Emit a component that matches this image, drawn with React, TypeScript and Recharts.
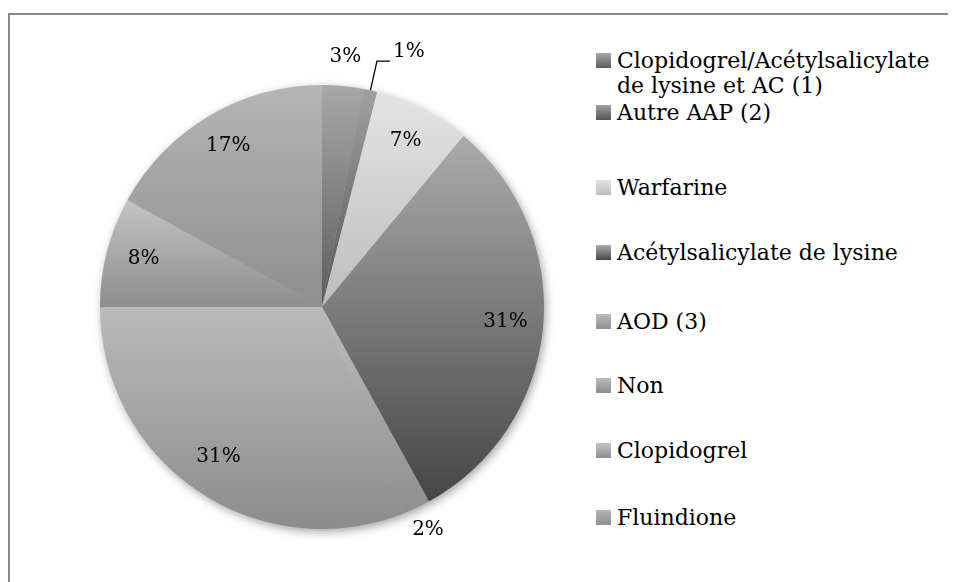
import React from 'react';
import { PieChart, Pie, Cell, Legend } from 'recharts';

const categories = [
  'Clopidogrel/Acétylsalicylate de lysine et AC (1)',
  'Autre AAP (2)',
  'Warfarine',
  'Acétylsalicylate de lysine',
  'AOD (3)',
  'Non',
  'Clopidogrel',
  'Fluindione',
];
const values = [3, 1, 7, 31, 2, 31, 8, 17];

const data = categories.map((name, i) => ({ name, value: values[i] }));

const gradTop = ['#a8a8a8', '#a0a0a0', '#e4e4e4', '#ababab', '#bdbdbd', '#bababa', '#c4c4c4', '#b5b5b5'];
const gradBottom = ['#5c5c5c', '#555555', '#bdbdbd', '#464646', '#8e8e8e', '#8c8c8c', '#8d8d8d', '#8e8e8e'];

const FONT = '"DejaVu Serif", serif';
const RAD = Math.PI / 180;

const renderLabel = (props: any) => {
  const { cx, cy, midAngle, outerRadius, percent } = props;
  const text = `${Math.round(percent * 100)}%`;
  const cos = Math.cos(-midAngle * RAD);
  const sin = Math.sin(-midAngle * RAD);
  if (percent < 0.015) {
    const sx = cx + outerRadius * cos;
    const sy = cy + outerRadius * sin;
    const ex = cx + (outerRadius + 30) * cos;
    const ey = cy + (outerRadius + 30) * sin;
    return (
      <g>
        <polyline points={`${sx},${sy} ${ex},${ey} ${ex + 13},${ey}`} stroke="#000" strokeWidth={1.3} fill="none" />
        <text x={ex + 16} y={ey - 11} textAnchor="start" dominantBaseline="central" fill="#000" fontFamily={FONT} fontSize={20}>
          {text}
        </text>
      </g>
    );
  }
  const r = percent < 0.04 ? outerRadius + 27 : outerRadius * 0.83;
  const x = cx + r * cos;
  const y = cy + r * sin - 4;
  return (
    <text x={x} y={y} textAnchor="middle" dominantBaseline="central" fill="#000" fontFamily={FONT} fontSize={20}>
      {text}
    </text>
  );
};

const legendGaps = [0, 2, 50, 40, 44, 39, 40, 42];

const renderLegend = (props: any) => {
  const payload = (props.payload || [])
    .filter((p: any) => p.type !== 'none' && categories.indexOf(p.value) >= 0)
    .slice()
    .sort((a: any, b: any) => categories.indexOf(a.value) - categories.indexOf(b.value));
  return (
    <div style={{ fontFamily: FONT, fontSize: 22, lineHeight: '25px', color: '#000' }}>
      {payload.map((entry: any, i: number) => {
        const idx = categories.indexOf(entry.value);
        return (
          <div key={idx} style={{ display: 'flex', alignItems: 'flex-start', marginTop: legendGaps[i] }}>
            <svg width={15} height={15} style={{ marginTop: 5, marginRight: 6, flex: 'none' }}>
              <rect x={0} y={0} width={15} height={15} fill={`url(#lg${idx})`} />
            </svg>
            <div style={{ width: 322 }}>{entry.value}</div>
          </div>
        );
      })}
    </div>
  );
};

export default function App() {
  return (
    <div style={{ position: 'relative', width: 948, height: 574 }}>
      <style>{`.pie-shadow { filter: blur(3px); }`}</style>
      <div
        style={{
          position: 'absolute',
          left: 0,
          top: 5,
          width: 948,
          height: 569,
          borderTop: '2px solid #888888',
          borderLeft: '2px solid #888888',
          boxSizing: 'border-box',
        }}
      />
      <svg width={0} height={0} style={{ position: 'absolute' }}>
        <defs>
          {gradTop.map((c, i) => (
            <linearGradient key={i} id={`lg${i}`} x1="0" y1="0" x2="0" y2="1">
              <stop offset="0%" stopColor={c} />
              <stop offset="100%" stopColor={gradBottom[i]} />
            </linearGradient>
          ))}
        </defs>
      </svg>
      <PieChart width={948} height={574} style={{ position: 'absolute', left: 0, top: 0 }}>
        <defs>
          {gradTop.map((c, i) => (
            <linearGradient key={i} id={`g${i}`} x1="0" y1="0" x2="0" y2="1">
              <stop offset="0%" stopColor={c} />
              <stop offset="100%" stopColor={gradBottom[i]} />
            </linearGradient>
          ))}
        </defs>
        <Pie
          className="pie-shadow"
          data={data}
          dataKey="value"
          nameKey="name"
          cx={311}
          cy={297}
          outerRadius={222}
          startAngle={90}
          endAngle={-270}
          stroke="none"
          fill="rgba(0,0,0,0.35)"
          legendType="none"
          isAnimationActive={false}
          label={false}
          labelLine={false}
        />
        <Pie
          data={data}
          dataKey="value"
          nameKey="name"
          cx={309}
          cy={294}
          outerRadius={222}
          startAngle={90}
          endAngle={-270}
          stroke="none"
          isAnimationActive={false}
          label={renderLabel}
          labelLine={false}
        >
          {data.map((_, i) => (
            <Cell key={i} fill={`url(#g${i})`} />
          ))}
        </Pie>
        <Legend
          layout="vertical"
          align="right"
          verticalAlign="top"
          itemSorter={null as any}
          content={renderLegend}
          wrapperStyle={{ position: 'absolute', left: 588, top: 40, width: 360 }}
        />
      </PieChart>
    </div>
  );
}
